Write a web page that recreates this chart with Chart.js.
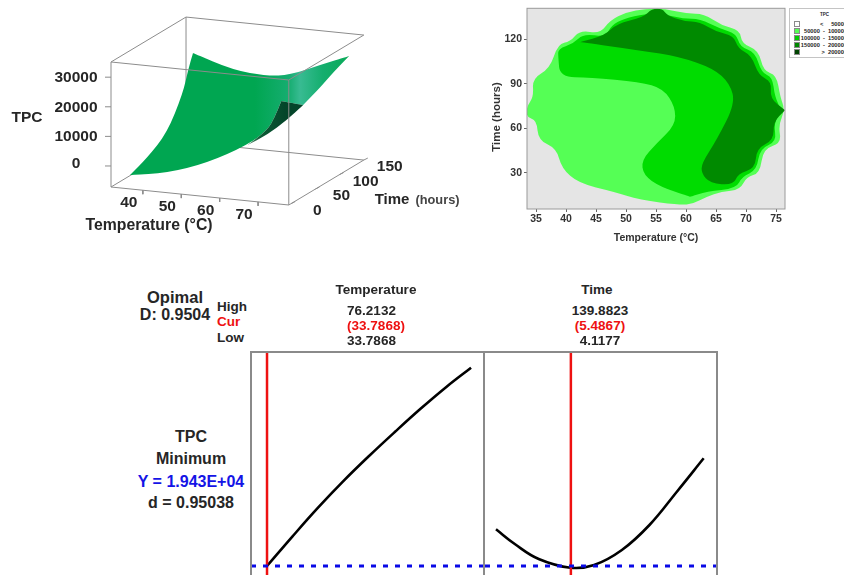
<!DOCTYPE html>
<html lang="en">
  <head>
    <meta charset="UTF-8" />
    <title>TPC response surface</title>
    <script src="https://cdn.jsdelivr.net/npm/chart.js@4"></script>
    <style>
      html, body {
        margin: 0;
        width: 844px;
        height: 575px;
        overflow: hidden;
        background: white;
        font-family: "Liberation Sans", Arial, sans-serif;
        font-weight: bold;
        color: #262626;
      }
      /* the reference is a soft, resampled image */
      body { filter: blur(0.4px); }
      canvas { position: absolute; }
      .label {
        position: absolute;
        white-space: nowrap;
        transform: translate(-50%, -50%);
      }
      .left { transform: translate(0, -50%); }
      .rotated { transform: translate(-50%, -50%) rotate(-90deg); }
      .frame {
        position: absolute;
        box-sizing: border-box;
        border: 2px solid #8a8a8a;
      }
      .legend {
        position: absolute;
        left: 789px;
        top: 8px;
        width: 59px;
        height: 50px;
        box-sizing: border-box;
        border: 1px solid #c4c4c4;
        background: white;
      }
      .swatch {
        position: absolute;
        left: 4px;
        width: 4px;
        height: 4px;
        border: 1px solid #8a8a8a;
      }
    </style>
  </head>
  <body>
    <canvas id="surface" width="480" height="245" style="left:0;top:0"></canvas>
    <canvas id="contour" width="310" height="244" style="left:480px;top:0"></canvas>
    <canvas id="tempPanel" width="234" height="240" style="left:251px;top:352px"></canvas>
    <canvas id="timePanel" width="232" height="240" style="left:485px;top:352px"></canvas>
    <div class="frame" style="left:250px;top:351px;width:235px;height:240px"></div>
    <div class="frame" style="left:483px;top:351px;width:235px;height:240px"></div>
    <div class="legend" id="legend"></div>

    <script>
      // 3D surface outline: temperature, time, TPC (doubled points keep a sharp corner)
      const surfaceT = [35.4, 35.4, 45, 55.4, 66, 71.2, 73.1, 74.8, 74.8, 74.8, 74.8, 74.8, 74.8, 74.8, 74.8, 74.8,
        67.2, 59.4, 53.4, 44.56, 34.15, 34.15, 34.5, 34.5, 34.5, 34.5];
      const surfaceTime = [5, 5, 5, 5, 5, 5, 5, 5, 5, 50, 50, 70, 86, 113, 145, 145,
        145, 145, 145, 145, 145, 145, 132, 121.5, 88.5, 47];
      const surfaceTPC = [-3540, -3540, -1600, 3140, 10630, 16370, 21000, 26640, 26640, 20880, 20880, 22300, 23430, 25850, 28130, 28130,
        24080, 19680, 18560, 19420, 23800, 23800, 19370, 12630, 2350, -2030];

      // underside fold, shows dark
      const foldT = [74.8, 74.8, 74.8, 74.8, 73.1, 67.9, 66, 66, 71.2, 73.1];
      const foldTime = [5, 5, 50, 50, 30, 30, 5, 5, 5, 5];
      const foldTPC = [26640, 26640, 20880, 20880, 17550, 11800, 10630, 10630, 16370, 21000];

      const tempTicks3d = [40, 50, 60, 70];
      const timeTicks3d = [0, 50, 100, 150];
      const tpcTicks3d = [0, 10000, 20000, 30000];

      // contour regions
      const lightT = [33.44, 33.44, 35.1, 35.4, 38.4, 39.3, 42.1, 47.9, 52.3, 59, 61.2, 63.4, 65.9, 69, 70.1, 72.3, 72.9, 75.9, 75.4, 76.5,
        75.7, 75.1, 72.9, 72.1, 69.3, 69, 65.9, 63, 60.1, 56.5, 53.2, 50.1, 47.3, 45.7, 42.3, 40.7, 38.7, 37.3, 34.4, 34.6];
      const lightTime = [74.5, 67.3, 65.5, 52, 46.4, 33, 22.9, 17.3, 11.7, 8.3, 9, 13.9, 17.3, 18.4, 27.4, 29.6, 46.4, 49.8, 62.1, 72.2,
        81.2, 95.8, 98.7, 112.6, 117.1, 126.1, 129.4, 137.3, 137.3, 140.6, 140.6, 138.4, 132.8, 123.8, 126.1, 118.2, 117.1, 100.3, 93.5, 81.2];
      const midT = [38.7, 39, 44, 52.3, 56.2, 58.2, 58.2, 55.1, 52.6, 52.9, 55.7, 60.7, 60.7, 63.4, 68.4, 69.3, 71.8, 72.3, 75.1, 74.6, 75.9,
        74.8, 74.4, 72.6, 71.5, 69, 68.4, 65.7, 62.3, 59.6, 55.9, 53.2, 49.6, 47.6, 46.5, 42.9, 41.2, 38.7];
      const midTime = [108.1, 94.7, 94.2, 91.3, 86.8, 74.5, 62.1, 49.8, 38.6, 28.5, 20.6, 13.9, 13.9, 17.3, 19.5, 27.4, 31.8, 46.4, 50.9, 63.2, 72.2,
        81.2, 94.7, 97.3, 111.5, 114.8, 123.8, 127.2, 133.9, 133.9, 137.3, 137.3, 133.9, 129.4, 121.6, 123.8, 117.1, 113.7];
      const darkT = [42.3, 42.3, 46.5, 48.4, 52.9, 54.3, 56.1, 56.8, 59.6, 62.3, 65.1, 67.9, 68.7, 70.9, 72.1, 74.3, 74, 76.5, 76.5, 74.6, 74.6, 71.8,
        71.5, 68.7, 67.9, 64, 62.6, 62.6, 65.1, 68.2, 67.3, 64.6, 59, 52.3];
      const darkTime = [118.2, 118.2, 122.7, 130.5, 135, 140.6, 140.6, 136.2, 132.3, 131.7, 124.9, 122.7, 113.7, 109.2, 95.8, 91.3, 80.1, 72.2, 72.2, 64.4, 52, 46.4,
        33, 29.6, 21.7, 22.9, 29.6, 36.3, 52, 76.7, 90.2, 100.3, 108.1, 112.6];
      const contourXTicks = [35, 40, 45, 50, 55, 60, 65, 70, 75];
      const contourYTicks = [30, 60, 90, 120];
      const legendLabels = ["<     50000", "50000  -  100000", "100000  -  150000", "150000  -  200000", ">  200000"];
      const legendColors = ["#ffffff", "#55ff55", "#00cc00", "#008800", "#004400"];

      // optimisation plot curves
      const tempValues = [33.79, 39.05, 44.3, 49.6, 55, 60.4, 65.7, 71, 76.2];
      const tempTPC = [19430, 20900, 22320, 23660, 24930, 26140, 27290, 28370, 29345];
      const timeValues = [4.12, 16.6, 32, 52.7, 68.2, 86.3, 104.3, 122.2, 139.7];
      const timeTPC = [21265, 20515, 19780, 19345, 19480, 20230, 21480, 23145, 24815];
      const optimalTPC = 19430;
      const currentTemp = 33.79;
      const currentTime = 53;

      const FONT = '"Liberation Sans", Arial, sans-serif';
      Chart.defaults.font.family = FONT;
      Chart.defaults.font.weight = "bold";
      Chart.defaults.animation = false;
      Chart.defaults.plugins.legend.display = false;
      Chart.defaults.plugins.tooltip.enabled = false;

      // Chart.js has no closed polygon fill, so fill through the parsed points
      const polygonFill = {
        id: "polygonFill",
        beforeDatasetDraw(chart, args) {
          const ds = chart.data.datasets[args.index];
          if (!ds.polyFill) return;
          const pts = args.meta.data;
          const n = pts.length;
          const { ctx, chartArea: a } = chart;
          ctx.save();
          ctx.beginPath();
          ctx.rect(a.left, a.top, a.width, a.height);
          ctx.clip();
          ctx.beginPath();
          const mid = (p, q) => ({ x: (p.x + q.x) / 2, y: (p.y + q.y) / 2 });
          const start = mid(pts[n - 1], pts[0]);
          ctx.moveTo(start.x, start.y);
          for (let i = 0; i < n; i++) {
            const m = mid(pts[i], pts[(i + 1) % n]);
            ctx.quadraticCurveTo(pts[i].x, pts[i].y, m.x, m.y);
          }
          ctx.closePath();
          ctx.fillStyle = typeof ds.polyFill === "function" ? ds.polyFill(ctx) : ds.polyFill;
          ctx.fill();
          ctx.restore();
        },
      };

      const plotFrame = {
        id: "plotFrame",
        beforeDraw(chart) {
          const a = chart.chartArea;
          chart.ctx.fillStyle = "#e5e5e5";
          chart.ctx.fillRect(a.left, a.top, a.width, a.height);
        },
        afterDraw(chart) {
          const a = chart.chartArea;
          chart.ctx.strokeStyle = "#9a9a9a";
          chart.ctx.lineWidth = 1;
          chart.ctx.strokeRect(a.left, a.top, a.width, a.height);
        },
      };

      function addLabel(text, x, y, size, opts = {}) {
        const el = document.createElement("div");
        el.className = "label" + (opts.left ? " left" : "") + (opts.rotated ? " rotated" : "");
        el.textContent = text;
        el.style.left = x + "px";
        el.style.top = y + "px";
        el.style.fontSize = size + "px";
        if (opts.color) el.style.color = opts.color;
        document.body.appendChild(el);
      }

      // Fixed oblique projection of the 3D box onto the canvas
      const T_LO = 31.7, T_HI = 78, TIME_LO = -5, TIME_HI = 150, TPC_LO = -7100, TPC_HI = 35130;
      function project(T, time, tpc) {
        return {
          x: 111 + 3.84 * (T - T_LO) + 0.484 * (time - TIME_LO),
          y: 187 + 0.389 * (T - T_LO) - 0.29 * (time - TIME_LO) - 0.00296 * (tpc - TPC_LO),
        };
      }
      const projectAll = (Ts, times, tpcs) => Ts.map((T, i) => project(T, times[i], tpcs[i]));

      function segment(a, b, order, color) {
        return {
          data: [a, b],
          showLine: true,
          borderColor: color || "#8c8c8c",
          borderWidth: 1,
          pointRadius: 0,
          order: order,
        };
      }

      const corner = (t, time, z) => project(t ? T_HI : T_LO, time ? TIME_HI : TIME_LO, z ? TPC_HI : TPC_LO);
      const boxDatasets = [
        // behind the surface
        segment(corner(0, 1, 0), corner(0, 1, 1), 5),
        segment(corner(0, 1, 0), corner(1, 1, 0), 5),
        segment(corner(0, 0, 0), corner(0, 1, 0), 5),
        segment(corner(0, 1, 1), corner(1, 1, 1), 5),
        segment(corner(0, 0, 1), corner(0, 1, 1), 5),
        // in front of it
        segment(corner(0, 0, 0), corner(0, 0, 1), 0),
        segment(corner(0, 0, 1), corner(1, 0, 1), 0),
        segment(corner(0, 0, 0), corner(1, 0, 0), 0),
        segment(corner(1, 0, 0), corner(1, 0, 1), 0),
        segment(corner(1, 0, 1), corner(1, 1, 1), 0),
        segment(corner(1, 0, 0), corner(1, 1, 0), 0),
      ];
      const tickDatasets = [];
      tpcTicks3d.forEach(v => {
        const p = project(T_LO, TIME_LO, v);
        tickDatasets.push(segment({ x: p.x - 6, y: p.y }, p, 0));
        addLabel(String(v), 76, p.y - (v === 0 ? 3 : 0), 15.5);
      });
      tempTicks3d.forEach(v => {
        const p = project(v, TIME_LO, TPC_LO);
        tickDatasets.push(segment(p, { x: p.x, y: p.y + 4 }, 0));
        addLabel(String(v), p.x - 14, p.y + 12, 15.5);
      });
      timeTicks3d.forEach(v => {
        const p = project(T_HI, v, TPC_LO);
        tickDatasets.push(segment(p, { x: p.x + 4, y: p.y - 2 }, 0));
        addLabel(String(v), p.x + 26, p.y + 6, 15.5);
      });

      new Chart(document.getElementById("surface"), {
        type: "scatter",
        plugins: [polygonFill],
        data: {
          datasets: [
            ...boxDatasets,
            ...tickDatasets,
            {
              data: projectAll(surfaceT, surfaceTime, surfaceTPC),
              pointRadius: 0,
              order: 3,
              polyFill: ctx => {
                const g = ctx.createLinearGradient(255, 0, 349, 0);
                g.addColorStop(0, "#00a651");
                g.addColorStop(0.36, "#16ad70");
                g.addColorStop(0.48, "#38bb92");
                g.addColorStop(0.72, "#14ae6e");
                g.addColorStop(1, "#0aaa58");
                return g;
              },
            },
            {
              data: projectAll(foldT, foldTime, foldTPC),
              pointRadius: 0,
              order: 2,
              polyFill: ctx => {
                const g = ctx.createLinearGradient(245, 0, 285, 0);
                g.addColorStop(0, "#5f8f75");
                g.addColorStop(0.4, "#0c5a34");
                g.addColorStop(1, "#04452a");
                return g;
              },
            },
          ],
        },
        options: {
          responsive: false,
          layout: { padding: 0 },
          scales: {
            x: { display: false, min: 0, max: 480 },
            y: { display: false, min: 0, max: 245, reverse: true },
          },
        },
      });

      const pairs = (xs, ys) => xs.map((x, i) => ({ x, y: ys[i] }));

      new Chart(document.getElementById("contour"), {
        type: "scatter",
        plugins: [plotFrame, polygonFill],
        data: {
          datasets: [
            { data: pairs(lightT, lightTime), pointRadius: 0, order: 3, polyFill: "#55ff55" },
            { data: pairs(midT, midTime), pointRadius: 0, order: 2, polyFill: "#00dc00" },
            { data: pairs(darkT, darkTime), pointRadius: 0, order: 1, polyFill: "#008a00" },
          ],
        },
        options: {
          responsive: false,
          layout: { padding: { top: 8, right: 5 } },
          scales: {
            x: {
              min: 33.5,
              max: 76.5,
              grid: { drawOnChartArea: false, tickLength: 3, color: "#666" },
              border: { display: false },
              afterBuildTicks: s => { s.ticks = contourXTicks.map(value => ({ value })); },
              afterFit: s => { s.height = 35; },
              ticks: { color: "#333", font: { size: 10.5 }, padding: 1, maxRotation: 0 },
              title: { display: true, text: "Temperature (°C)", color: "#333", font: { size: 10.5, weight: "bold" }, padding: 0 },
            },
            y: {
              min: 5.6,
              max: 140.9,
              grid: { drawOnChartArea: false, tickLength: 3, color: "#666" },
              border: { display: false },
              afterBuildTicks: s => { s.ticks = contourYTicks.map(value => ({ value })); },
              afterFit: s => { s.width = 47; },
              ticks: { color: "#333", font: { size: 10.5 }, padding: 2 },
            },
          },
        },
      });
      addLabel("Time (hours)", 496, 117, 11.5, { rotated: true, color: "#333" });

      function optPanel(id, xs, ys, current, xMin, xMax) {
        const yMin = 18130, yMax = 30130;
        new Chart(document.getElementById(id), {
          type: "scatter",
          data: {
            datasets: [
              {
                data: [{ x: current, y: yMin }, { x: current, y: yMax }],
                showLine: true,
                borderColor: "#ee1111",
                borderWidth: 2.5,
                pointRadius: 0,
                order: 1,
              },
              {
                data: [{ x: xMin, y: optimalTPC }, { x: xMax, y: optimalTPC }],
                showLine: true,
                borderColor: "#0a0ae6",
                borderWidth: 3,
                borderDash: [5, 7],
                pointRadius: 0,
                order: 0,
              },
              {
                data: pairs(xs, ys),
                showLine: true,
                borderColor: "#000000",
                borderWidth: 2.6,
                tension: 0.4,
                pointRadius: 0,
                order: 2,
              },
            ],
          },
          options: {
            responsive: false,
            layout: { padding: 0 },
            scales: {
              x: { display: false, min: xMin, max: xMax },
              y: { display: false, min: yMin, max: yMax },
            },
          },
        });
      }
      optPanel("tempPanel", tempValues, tempTPC, currentTemp, 30.46, 79.1);
      optPanel("timePanel", timeValues, timeTPC, currentTime, -3.06, 148.4);

      // 3D axis names
      addLabel("TPC", 27, 117, 15.5);
      addLabel("Temperature (°C)", 149, 225, 15.8);
      addLabel("Time", 392, 198, 15);
      addLabel("(hours)", 437.5, 199, 12.8, { color: "#444" });

      // Contour legend
      const legend = document.getElementById("legend");
      const legendTitle = document.createElement("div");
      legendTitle.textContent = "TPC";
      legendTitle.style.cssText = "position:absolute;left:30px;top:3px;font-size:4.5px;";
      legend.appendChild(legendTitle);
      legendLabels.forEach((text, i) => {
        const swatch = document.createElement("div");
        swatch.className = "swatch";
        swatch.style.top = 12 + i * 7 + "px";
        swatch.style.background = legendColors[i];
        legend.appendChild(swatch);
        const row = document.createElement("div");
        row.textContent = text;
        row.style.cssText = "position:absolute;right:0;white-space:pre;font-size:5.7px;line-height:6px;top:" + (12 + i * 7) + "px;";
        legend.appendChild(row);
      });

      // Optimisation plot header
      addLabel("Opimal", 175, 297, 16.5);
      addLabel("D: 0.9504", 175, 315, 16);
      addLabel("High", 217, 306, 13.5, { left: true });
      addLabel("Cur", 217, 321, 13.5, { left: true, color: "#ee1111" });
      addLabel("Low", 217, 337, 13.5, { left: true });
      addLabel("Temperature", 376, 289, 13.5);
      addLabel("76.2132", 371.5, 310, 13.5);
      addLabel("(33.7868)", 376, 325, 13.5, { color: "#ee1111" });
      addLabel("33.7868", 371.5, 340, 13.5);
      addLabel("Time", 597, 289, 13.5);
      addLabel("139.8823", 600, 310, 13.5);
      addLabel("(5.4867)", 600, 325, 13.5, { color: "#ee1111" });
      addLabel("4.1177", 600, 340, 13.5);
      addLabel("TPC", 191, 437, 16);
      addLabel("Minimum", 191, 459, 16);
      addLabel("Y = 1.943E+04", 191, 482, 16, { color: "#1414e6" });
      addLabel("d = 0.95038", 191, 503, 16);
    </script>
  </body>
</html>
